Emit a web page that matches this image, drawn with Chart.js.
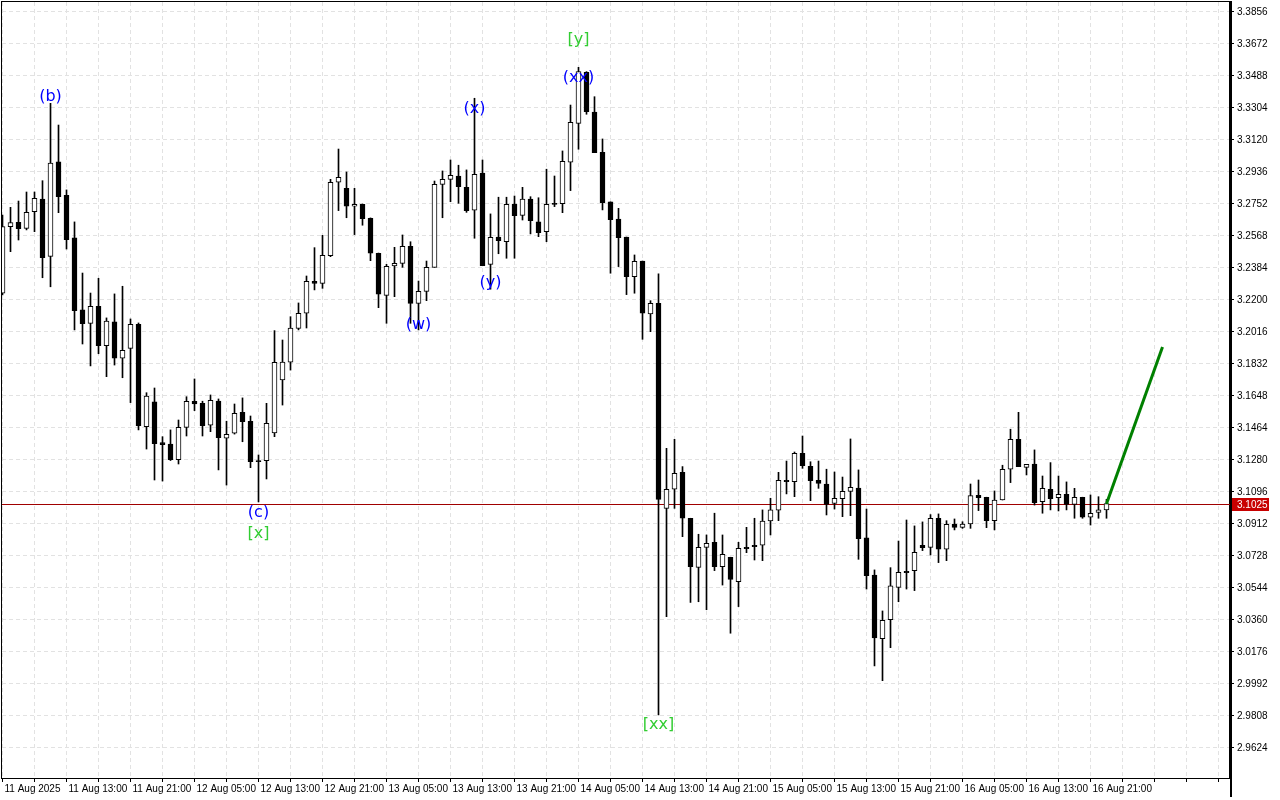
<!DOCTYPE html>
<html>
<head>
<meta charset="utf-8">
<script src="https://cdn.jsdelivr.net/npm/chart.js@4.4.1/dist/chart.umd.min.js"></script>
<style>
  html, body { margin: 0; padding: 0; background: #fff; }
  canvas { display: block; }
</style>
</head>
<body>
<canvas id="chart" width="1280" height="800"></canvas>
<script>
// hourly candles
const opens = [
  3.2235, 3.2618, 3.2643, 3.2608, 3.2704, 3.2777, 3.2447, 3.2990, 3.2798, 3.2553,
  3.2139, 3.2062, 3.2160, 3.1933, 3.2070, 3.1861, 3.1918, 3.2056, 3.1468, 3.1610,
  3.1376, 3.1368, 3.1278, 3.1464, 3.1614, 3.1602, 3.1476, 3.1615, 3.1401, 3.1430,
  3.1550, 3.1499, 3.1272, 3.1272, 3.1431, 3.1736, 3.1839, 3.2033, 3.2120, 3.2304,
  3.2292, 3.2451, 3.2873, 3.2838, 3.2735, 3.2746, 3.2666, 3.2465, 3.2223, 3.2392,
  3.2407, 3.2505, 3.2177, 3.2246, 3.2384, 3.2861, 3.2890, 3.2909, 3.2844, 3.2712,
  3.2926, 3.2401, 3.2558, 3.2531, 3.2748, 3.2683, 3.2777, 3.2645, 3.2589, 3.2752,
  3.2750, 3.2988, 3.3212, 3.3505, 3.3277, 3.3045, 3.2760, 3.2662, 3.2558, 3.2330,
  3.2420, 3.2116, 3.2177, 3.0998, 3.1108, 3.1205, 3.0941, 3.0659, 3.0774, 3.0803,
  3.0663, 3.0717, 3.0576, 3.0774, 3.0786, 3.0786, 3.0925, 3.0987, 3.1159, 3.1151,
  3.1315, 3.1240, 3.1159, 3.1138, 3.1027, 3.1054, 3.1096, 3.1115, 3.0828, 3.0615,
  3.0249, 3.0358, 3.0544, 3.0636, 3.0640, 3.0786, 3.0774, 3.0941, 3.0763, 3.0908,
  3.0889, 3.0908, 3.1073, 3.1062, 3.0927, 3.1046, 3.1223, 3.1395, 3.1234, 3.1253,
  3.1036, 3.1108, 3.1059, 3.1079, 3.1021, 3.1062, 3.0947, 3.0975, 3.0989
];
const highs = [
  3.2685, 3.2729, 3.2765, 3.2817, 3.2817, 3.2882, 3.3327, 3.3202, 3.2829, 3.2645,
  3.2351, 3.2236, 3.2321, 3.2093, 3.2231, 3.2275, 3.2087, 3.2064, 3.1663, 3.1690,
  3.1410, 3.1449, 3.1506, 3.1640, 3.1742, 3.1614, 3.1650, 3.1627, 3.1499, 3.1598,
  3.1633, 3.1529, 3.1305, 3.1602, 3.2020, 3.1966, 3.2100, 3.2179, 3.2334, 3.2497,
  3.2568, 3.2890, 3.3064, 3.2932, 3.2838, 3.2748, 3.2668, 3.2466, 3.2401, 3.2499,
  3.2570, 3.2531, 3.2305, 3.2420, 3.2880, 3.2938, 3.3001, 3.2971, 3.2944, 3.3356,
  3.3001, 3.2691, 3.2787, 3.2787, 3.2794, 3.2844, 3.2790, 3.2784, 3.2948, 3.2909,
  3.3053, 3.3317, 3.3534, 3.3509, 3.3365, 3.3122, 3.2760, 3.2723, 3.2558, 3.2455,
  3.2420, 3.2192, 3.2346, 3.1343, 3.1395, 3.1238, 3.0941, 3.0849, 3.0845, 3.0970,
  3.0845, 3.0717, 3.0803, 3.0889, 3.0941, 3.0989, 3.1056, 3.1205, 3.1270, 3.1322,
  3.1414, 3.1266, 3.1270, 3.1223, 3.1207, 3.1178, 3.1397, 3.1219, 3.0994, 3.0644,
  3.0408, 3.0657, 3.0810, 3.0931, 3.0897, 3.0920, 3.0962, 3.0966, 3.0927, 3.0937,
  3.0921, 3.1138, 3.1161, 3.1062, 3.1098, 3.1246, 3.1453, 3.1550, 3.1251, 3.1334,
  3.1184, 3.1261, 3.1184, 3.1150, 3.1113, 3.1062, 3.1075, 3.1065, 3.1050
];
const lows = [
  3.2225, 3.2474, 3.2541, 3.2599, 3.2589, 3.2324, 3.2272, 3.2698, 3.2489, 3.2024,
  3.1943, 3.1817, 3.1887, 3.1755, 3.1822, 3.1749, 3.1606, 3.1449, 3.1339, 3.1161,
  3.1155, 3.1273, 3.1253, 3.1414, 3.1560, 3.1414, 3.1439, 3.1219, 3.1132, 3.1425,
  3.1381, 3.1232, 3.1035, 3.1167, 3.1410, 3.1592, 3.1793, 3.2024, 3.2035, 3.2254,
  3.2263, 3.2445, 3.2710, 3.2669, 3.2572, 3.2626, 3.2422, 3.2152, 3.2062, 3.2215,
  3.2384, 3.2062, 3.2024, 3.2192, 3.2384, 3.2669, 3.2761, 3.2752, 3.2700, 3.2551,
  3.2393, 3.2258, 3.2462, 3.2436, 3.2436, 3.2656, 3.2576, 3.2560, 3.2531, 3.2733,
  3.2698, 3.2825, 3.3063, 3.3264, 3.3043, 3.2714, 3.2350, 3.2388, 3.2227, 3.2235,
  3.1970, 3.2014, 2.9810, 3.0375, 3.0998, 3.0835, 3.0457, 3.0461, 3.0415, 3.0640,
  3.0557, 3.0280, 3.0433, 3.0743, 3.0701, 3.0697, 3.0845, 3.0927, 3.1081, 3.1065,
  3.1228, 3.1042, 3.1113, 3.0960, 3.0994, 3.0950, 3.0956, 3.0705, 3.0534, 3.0092,
  3.0007, 3.0197, 3.0461, 3.0534, 3.0525, 3.0755, 3.0730, 3.0686, 3.0697, 3.0874,
  3.0883, 3.0883, 3.0985, 3.0887, 3.0874, 3.1046, 3.1146, 3.1238, 3.1190, 3.1017,
  3.0970, 3.0989, 3.0983, 3.0989, 3.0941, 3.0941, 3.0902, 3.0941, 3.0941
];
const closes = [
  3.2618, 3.2641, 3.2606, 3.2700, 3.2781, 3.2439, 3.2984, 3.2790, 3.2543, 3.2135,
  3.2060, 3.2160, 3.1933, 3.2075, 3.1861, 3.1907, 3.2056, 3.1474, 3.1644, 3.1370,
  3.1364, 3.1278, 3.1464, 3.1614, 3.1598, 3.1473, 3.1619, 3.1404, 3.1424, 3.1545,
  3.1496, 3.1266, 3.1267, 3.1487, 3.1838, 3.1839, 3.2035, 3.2120, 3.2304, 3.2292,
  3.2453, 3.2873, 3.2902, 3.2735, 3.2746, 3.2664, 3.2465, 3.2229, 3.2390, 3.2407,
  3.2505, 3.2177, 3.2246, 3.2384, 3.2861, 3.2890, 3.2913, 3.2848, 3.2710, 3.2919,
  3.2393, 3.2557, 3.2537, 3.2746, 3.2681, 3.2777, 3.2652, 3.2583, 3.2746, 3.2746,
  3.2994, 3.3218, 3.3509, 3.3279, 3.3043, 3.2756, 3.2658, 3.2554, 3.2330, 3.2419,
  3.2120, 3.2177, 3.1050, 3.1108, 3.1200, 3.0941, 3.0663, 3.0774, 3.0797, 3.0663,
  3.0734, 3.0590, 3.0768, 3.0766, 3.0777, 3.0925, 3.0989, 3.1159, 3.1151, 3.1315,
  3.1243, 3.1157, 3.1142, 3.1021, 3.1056, 3.1096, 3.1119, 3.0824, 3.0611, 3.0253,
  3.0354, 3.0552, 3.0630, 3.0628, 3.0745, 3.0772, 3.0941, 3.0763, 3.0906, 3.0889,
  3.0908, 3.1071, 3.1059, 3.0927, 3.1046, 3.1223, 3.1395, 3.1238, 3.1251, 3.1031,
  3.1113, 3.1054, 3.1079, 3.1021, 3.1062, 3.0947, 3.0970, 3.0989, 3.1025
];

// one label every 8 bars
const timeLabels = [
  '11 Aug 2025', '11 Aug 13:00', '11 Aug 21:00', '12 Aug 05:00', '12 Aug 13:00',
  '12 Aug 21:00', '13 Aug 05:00', '13 Aug 13:00', '13 Aug 21:00', '14 Aug 05:00',
  '14 Aug 13:00', '14 Aug 21:00', '15 Aug 05:00', '15 Aug 13:00', '15 Aug 21:00',
  '16 Aug 05:00', '16 Aug 13:00', '16 Aug 21:00'
];
const priceTicks = [
  3.3856, 3.3672, 3.3488, 3.3304, 3.3120, 3.2936, 3.2752, 3.2568, 3.2384, 3.2200,
  3.2016, 3.1832, 3.1648, 3.1464, 3.1280, 3.1096, 3.0912, 3.0728, 3.0544, 3.0360,
  3.0176, 2.9992, 2.9808, 2.9624
];
const lastPrice = 3.1025;

// forecast arrow
const forecastIdx = [138, 145];
const forecastPrice = [3.1025, 3.1926];

// wave marks
const waveText  = ['(b)', '(c)', '[x]', '(w)', '(x)', '(y)', '(xx)', '[y]', '[xx]'];
const waveIdx   = [6, 32, 32, 52, 59, 61, 72, 72, 82];
const wavePrice = [3.3375, 3.0983, 3.0862, 3.2064, 3.3306, 3.2305, 3.3484, 3.3702, 2.9764];
const waveColor = ['#0000ff', '#0000ff', '#32cd32', '#0000ff', '#0000ff', '#0000ff', '#0000ff', '#32cd32', '#32cd32'];

const bodies = opens.map((o, i) => ({ x: i, y: [o, closes[i]] }));
const wicks = lows.map((l, i) => ({ x: i, y: [l, highs[i]] }));
const bodyFill = opens.map((o, i) => closes[i] >= o ? '#ffffff' : '#000000');
const forecast = forecastIdx.map((x, i) => ({ x: x, y: forecastPrice[i] }));

const extras = {
  id: 'extras',
  beforeDatasetsDraw(chart) {
    const { ctx, chartArea: a, scales: { y } } = chart;
    const py = Math.round(y.getPixelForValue(lastPrice)) + 0.5;
    ctx.save();
    ctx.strokeStyle = '#a00000';
    ctx.lineWidth = 1;
    ctx.beginPath();
    ctx.moveTo(a.left, py);
    ctx.lineTo(a.right, py);
    ctx.stroke();
    ctx.restore();
  },
  afterDraw(chart) {
    const { ctx, chartArea: a, scales: { x, y } } = chart;
    ctx.save();
    // frame
    ctx.strokeStyle = '#000';
    ctx.lineWidth = 1;
    ctx.strokeRect(a.left - 0.5, a.top - 0.5, a.right - a.left + 1, a.bottom - a.top + 1);
    ctx.fillStyle = '#000';
    ctx.fillRect(a.right, a.top - 1, 2, chart.height - a.top - 2);

    // wave labels (text sits a bit low in the original)
    ctx.font = '16px "DejaVu Sans"';
    ctx.textAlign = 'center';
    ctx.textBaseline = 'middle';
    waveText.forEach((t, i) => {
      ctx.fillStyle = waveColor[i];
      ctx.fillText(t, x.getPixelForValue(waveIdx[i]), y.getPixelForValue(wavePrice[i]) + 2);
    });

    // last price tag
    const py = Math.round(y.getPixelForValue(lastPrice));
    ctx.fillStyle = '#c80000';
    ctx.fillRect(a.right + 2, py - 6, 37, 13);
    ctx.fillStyle = '#fff';
    ctx.font = '10px "Liberation Sans"';
    ctx.textAlign = 'left';
    ctx.fillText(lastPrice.toFixed(4), a.right + 7, py + 1);
    ctx.restore();
  }
};

const ctx = document.getElementById('chart').getContext('2d');
new Chart(ctx, {
  data: {
    datasets: [
      {
        type: 'line',
        data: forecast,
        borderColor: '#008000',
        borderWidth: 3,
        pointRadius: 0,
        order: 0
      },
      {
        type: 'bar',
        data: bodies,
        backgroundColor: bodyFill,
        borderColor: '#000000',
        borderWidth: 1,
        borderSkipped: false,
        barThickness: 5,
        grouped: false,
        order: 1
      },
      {
        type: 'bar',
        data: wicks,
        backgroundColor: '#000000',
        borderWidth: 0,
        barThickness: 1,
        grouped: false,
        order: 2
      }
    ]
  },
  options: {
    responsive: false,
    animation: false,
    layout: { padding: { left: 2, top: 2, right: 0, bottom: 0 } },
    plugins: {
      legend: { display: false },
      tooltip: { enabled: false }
    },
    scales: {
      x: {
        type: 'linear',
        offset: false,
        min: -0.0625,
        max: 153.4375,
        afterBuildTicks: s => { s.ticks = []; for (let v = 0; v <= 152; v += 4) s.ticks.push({ value: v }); },
        afterFit: s => { s.height = 22; s.paddingLeft = 0; s.paddingRight = 0; },
        ticks: {
          autoSkip: false,
          maxRotation: 0,
          align: 'start',
          padding: 1,
          labelOffset: 2,
          color: '#000',
          font: { family: 'Liberation Sans', size: 10 },
          callback: v => (v % 8 === 0 && timeLabels[v / 8]) ? timeLabels[v / 8] : ''
        },
        grid: {
          offset: false,
          color: '#e2e2e2',
          tickColor: '#000',
          tickLength: 4,
          tickBorderDash: []
        },
        border: { display: true, color: '#000', width: 1, dash: [4, 3] }
      },
      y: {
        type: 'linear',
        position: 'right',
        min: 2.94475,
        max: 3.39095,
        afterBuildTicks: s => { s.ticks = priceTicks.map(v => ({ value: v })); },
        afterFit: s => { s.width = 50; s.paddingTop = 0; s.paddingBottom = 0; },
        ticks: {
          padding: 3,
          labelOffset: 1,
          color: '#000',
          font: { family: 'Liberation Sans', size: 10 },
          callback: v => v.toFixed(4)
        },
        grid: {
          color: '#e2e2e2',
          tickColor: '#000',
          tickLength: 4,
          tickBorderDash: []
        },
        border: { display: true, color: '#000', width: 2, dash: [4, 3] }
      }
    }
  },
  plugins: [extras]
});
</script>
</body>
</html>
